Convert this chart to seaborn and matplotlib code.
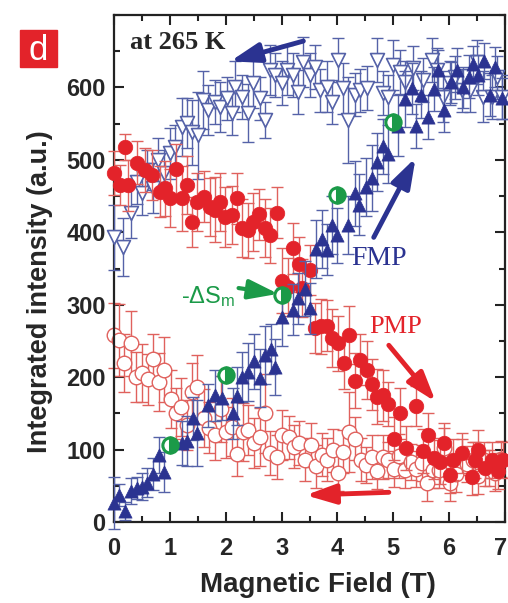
import matplotlib
matplotlib.use("Agg")
import matplotlib.pyplot as plt
import matplotlib.transforms as mtransforms
import numpy as np
import pandas as pd
import seaborn as sns
from matplotlib.patches import Rectangle
from matplotlib.ticker import MultipleLocator

# ---------------- data ----------------
# FMP phase, increasing field (filled up-triangles)
fmp_up_x = [0.00, 0.09, 0.20, 0.30, 0.41, 0.50, 0.59, 0.69, 0.81, 0.90,
            1.22, 1.31, 1.41, 1.49, 1.68, 1.81, 1.93, 2.13, 2.20, 2.30,
            2.40, 2.50, 2.61, 2.70, 2.81, 2.88, 3.00, 3.20, 3.30, 3.42,
            3.50, 3.62, 3.72, 3.81, 3.90, 4.00, 4.19, 4.31, 4.39, 4.51,
            4.62, 4.70, 4.81, 4.91, 5.08, 5.21, 5.33, 5.41, 5.50, 5.62,
            5.72, 5.80, 5.91, 6.03, 6.14, 6.25, 6.35, 6.43, 6.52, 6.62,
            6.73, 6.82, 6.95]
fmp_up_y = [26, 37, 15, 43, 47, 49, 54, 66, 92, 69,
            109, 112, 143, 123, 161, 175, 171, 150, 174, 200,
            207, 222, 199, 230, 239, 214, 283, 293, 309, 322,
            295, 377, 391, 376, 410, 396, 410, 454, 438, 463,
            475, 497, 519, 508, 547, 584, 599, 547, 590, 559,
            598, 624, 569, 607, 624, 600, 615, 632, 617, 636,
            590, 628, 585]
fmp_up_err = [36, 15, 12, 18, 15, 18, 20, 22, 25, 28,
              30, 35, 30, 45, 30, 35, 30, 35, 40, 35,
              40, 38, 40, 40, 35, 38, 40, 35, 35, 38,
              35, 40, 40, 35, 40, 38, 40, 45, 42, 40,
              45, 40, 38, 40, 42, 38, 35, 30, 32, 30,
              30, 28, 30, 28, 30, 28, 30, 25, 28, 25,
              30, 28, 28]

# FMP phase, decreasing field (open down-triangles)
fmp_dn_x = [0.00, 0.16, 0.30, 0.41, 0.50, 0.59, 0.70, 0.79, 0.90, 1.00,
            1.09, 1.22, 1.31, 1.40, 1.50, 1.59, 1.68, 1.81, 1.90, 2.02,
            2.11, 2.17, 2.29, 2.40, 2.49, 2.61, 2.70, 2.79, 2.88, 3.01,
            3.10, 3.20, 3.29, 3.38, 3.51, 3.60, 3.69, 3.81, 3.90, 4.01,
            4.10, 4.19, 4.31, 4.40, 4.53, 4.71, 4.82, 4.90, 4.99, 5.12,
            5.21, 5.35, 5.53, 5.69, 5.78, 5.89, 6.02, 6.10, 6.23, 6.37,
            6.50, 6.61, 6.77, 6.86, 6.95]
fmp_dn_y = [393, 380, 427, 469, 454, 486, 461, 500, 482, 509,
            518, 545, 551, 538, 534, 583, 569, 580, 573, 585,
            565, 601, 587, 565, 606, 585, 555, 624, 617, 606,
            624, 617, 594, 635, 617, 628, 596, 601, 580, 638,
            599, 555, 590, 596, 599, 638, 592, 587, 631, 621,
            607, 627, 610, 638, 624, 587, 606, 614, 596, 596,
            635, 587, 587, 614, 587]
fmp_dn_err = [45, 40, 35, 30, 30, 28, 35, 30, 32, 35,
              30, 40, 35, 45, 60, 40, 35, 30, 35, 30,
              30, 35, 30, 40, 35, 30, 25, 35, 30, 30,
              35, 30, 30, 35, 30, 30, 30, 35, 30, 30,
              35, 60, 30, 30, 30, 30, 30, 30, 35, 30,
              30, 30, 30, 30, 30, 35, 30, 30, 30, 30,
              30, 35, 30, 30, 30]

# PMP phase, increasing field (filled circles)
pmp_up_x = [0.00, 0.11, 0.20, 0.25, 0.41, 0.55, 0.68, 0.82, 0.91, 1.00,
            1.11, 1.22, 1.31, 1.40, 1.49, 1.61, 1.72, 1.81, 1.90, 1.99,
            2.11, 2.20, 2.29, 2.40, 2.49, 2.60, 2.70, 2.79, 2.92, 3.00,
            3.12, 3.20, 3.31, 3.37, 3.51, 3.60, 3.71, 3.81, 3.90, 4.01,
            4.12, 4.21, 4.31, 4.40, 4.53, 4.62, 4.71, 4.82, 4.91, 5.01,
            5.12, 5.23, 5.41, 5.53, 5.62, 5.73, 5.84, 5.91, 6.02, 6.07,
            6.23, 6.41, 6.46, 6.52, 6.65, 6.77, 6.87, 6.96]
pmp_up_y = [482, 465, 518, 465, 496, 486, 479, 456, 461, 447,
            487, 447, 465, 414, 442, 449, 435, 431, 442, 421,
            424, 447, 406, 403, 414, 425, 406, 396, 427, 333,
            324, 378, 356, 323, 348, 268, 270, 271, 254, 247,
            219, 258, 195, 224, 210, 190, 173, 175, 163, 115,
            150, 102, 160, 98, 120, 88, 83, 109, 65, 86,
            95, 62, 86, 99, 75, 86, 70, 86]
pmp_up_err = [30, 28, 18, 35, 30, 30, 35, 35, 38, 40,
              35, 45, 40, 35, 40, 35, 40, 45, 40, 42,
              40, 35, 40, 38, 40, 35, 40, 38, 35, 45,
              40, 35, 38, 40, 35, 35, 38, 35, 40, 38,
              35, 40, 38, 35, 40, 35, 38, 35, 30, 30,
              35, 30, 28, 30, 30, 28, 30, 28, 25, 28,
              28, 25, 25, 28, 25, 25, 25, 25]

# PMP phase, decreasing field (open circles)
pmp_dn_x = [0.00, 0.09, 0.18, 0.30, 0.39, 0.50, 0.61, 0.70, 0.81, 0.90,
            1.02, 1.11, 1.20, 1.31, 1.40, 1.49, 1.61, 1.70, 1.81, 1.92,
            2.00, 2.11, 2.20, 2.31, 2.40, 2.51, 2.61, 2.70, 2.79, 2.92,
            3.00, 3.13, 3.22, 3.31, 3.42, 3.53, 3.62, 3.72, 3.81, 3.92,
            4.01, 4.10, 4.21, 4.31, 4.42, 4.51, 4.62, 4.71, 4.82, 4.91,
            5.01, 5.10, 5.21, 5.32, 5.41, 5.51, 5.60, 5.71, 5.82, 5.91,
            6.02, 6.12, 6.23, 6.32, 6.43, 6.52, 6.62, 6.71, 6.82, 6.93]
pmp_dn_y = [258, 251, 219, 247, 200, 206, 197, 225, 193, 210,
            170, 150, 159, 134, 180, 186, 144, 130, 120, 156,
            124, 131, 94, 124, 127, 109, 117, 150, 95, 90,
            120, 117, 104, 109, 86, 106, 77, 93, 86, 99,
            68, 97, 124, 115, 86, 79, 90, 70, 90, 86,
            73, 91, 72, 83, 73, 81, 54, 72, 72, 102,
            54, 66, 90, 80, 86, 64, 86, 75, 68, 87]
pmp_dn_err = [45, 50, 40, 45, 35, 40, 35, 35, 40, 45,
              40, 35, 40, 35, 40, 45, 40, 35, 35, 45,
              35, 40, 30, 40, 35, 35, 40, 55, 30, 30,
              35, 30, 30, 30, 30, 30, 30, 30, 30, 30,
              25, 30, 55, 30, 30, 25, 30, 25, 30, 25,
              25, 30, 25, 25, 25, 25, 25, 25, 25, 28,
              25, 25, 25, 25, 25, 25, 25, 25, 25, 25]

# magnetic entropy change, scaled onto the intensity axis
ds_x = [1, 2, 3, 4, 5]
ds_y = [106, 203, 313, 451, 552]

x_ticks = [0, 1, 2, 3, 4, 5, 6, 7]
y_ticks = [0, 100, 200, 300, 400, 500, 600]

# ---------------- style ----------------
sns.set_style("ticks")
plt.rcParams["font.family"] = ["Liberation Sans", "DejaVu Sans"]
plt.rcParams["mathtext.fontset"] = "custom"
plt.rcParams["mathtext.rm"] = "Liberation Sans"
plt.rcParams["mathtext.it"] = "Liberation Sans"

NAVY = "#2B3391"
NAVY_LIGHT = "#5562A8"
RED = "#E3232A"
RED_LIGHT = "#E0615D"
GREEN = "#1B9A48"

W, H = 508, 603
fig = plt.figure(figsize=(W / 100, H / 100), dpi=100)
ax = fig.add_axes([114 / W, 1 - 522 / H, (505 - 114) / W, (522 - 15) / H])


def draw_series(x, y, err, bar_color, marker, face, edge, lw, size, z):
    ax.errorbar(x, y, yerr=err, fmt="none", ecolor=bar_color, elinewidth=1.0,
                capsize=4.5, capthick=1.0, zorder=z, clip_on=False)
    df = pd.DataFrame({"B": x, "I": y})
    sns.scatterplot(data=df, x="B", y="I", marker=marker, s=size, color=face,
                    edgecolor=edge, linewidth=lw, ax=ax, zorder=z + 0.5,
                    clip_on=False, legend=False)


draw_series(pmp_dn_x, pmp_dn_y, pmp_dn_err, RED_LIGHT, "o", "white", RED_LIGHT, 1.0, 110, 2)
draw_series(fmp_dn_x, fmp_dn_y, fmp_dn_err, NAVY_LIGHT, "v", "white", NAVY_LIGHT, 1.2, 100, 3)
draw_series(pmp_up_x, pmp_up_y, pmp_up_err, RED_LIGHT, "o", RED, RED, 0.5, 110, 4)
draw_series(fmp_up_x, fmp_up_y, fmp_up_err, NAVY_LIGHT, "^", NAVY, NAVY, 0.5, 90, 5)

ax.plot(ds_x, ds_y, ls="none", marker="o", ms=11, fillstyle="right",
        markerfacecolor=GREEN, markerfacecoloralt="white",
        markeredgecolor=GREEN, markeredgewidth=2.2, zorder=8, clip_on=False)

# ---------------- axes ----------------
ax.set_xlim(0, 7)
ax.set_ylim(0, 700)
ax.set_xticks(x_ticks)
ax.set_yticks(y_ticks)
ax.xaxis.set_minor_locator(MultipleLocator(0.5))
ax.yaxis.set_minor_locator(MultipleLocator(50))
ax.tick_params(which="both", direction="in", top=True, right=True,
               width=1.5, color="#222222")
ax.tick_params(which="major", length=7)
ax.tick_params(which="minor", length=4)
ax.tick_params(axis="x", which="major", pad=11)
ax.tick_params(axis="y", which="major", pad=6)
for lab in ax.get_xticklabels() + ax.get_yticklabels():
    lab.set_fontsize(17)
    lab.set_fontweight("bold")
# keep the last field label inside the canvas
last = ax.get_xticklabels()[-1]
last.set_transform(last.get_transform() +
                   mtransforms.ScaledTranslation(-4 / 100, 0, fig.dpi_scale_trans))
for sp in ax.spines.values():
    sp.set_linewidth(1.6)
    sp.set_color("#222222")

ax.set_xlabel("Magnetic Field (T)", fontsize=20, fontweight="bold", va="center")
ax.set_ylabel("Integrated intensity (a.u.)", fontsize=19.5, fontweight="bold")
ax.xaxis.set_label_coords((318 - 114) / 391, (522 - 585) / 507)
ax.yaxis.set_label_coords((53 - 114) / 391, (522 - 292) / 507)

# ---------------- annotations ----------------
def arrow(tail, head, color, lw=3.5):
    ax.annotate("", xy=head, xytext=tail,
                arrowprops=dict(arrowstyle="-|>,head_length=1.0,head_width=0.33",
                                lw=lw, color=color, shrinkA=0, shrinkB=0,
                                mutation_scale=18),
                zorder=9)


arrow((3.39, 664), (2.08, 636), NAVY)
arrow((4.65, 393), (5.40, 503), NAVY)
arrow((4.92, 244), (5.76, 166), RED)
arrow((4.92, 41), (3.43, 37), RED)
arrow((2.23, 323), (2.94, 315), GREEN, lw=3)

ax.text(1.15, 662, "at 265 K", family="Liberation Serif", fontweight="bold",
        fontsize=19, ha="center", va="center", zorder=10)
ax.text(4.74, 364, "FMP", family="Liberation Serif", fontsize=20,
        color=NAVY, ha="center", va="center", zorder=10)
ax.text(5.04, 269, "PMP", family="Liberation Serif", fontsize=19,
        color=RED, ha="center", va="center", zorder=10)
ax.text(1.68, 311, r"-ΔS$_\mathrm{m}$", fontsize=17, color=GREEN,
        ha="center", va="center", zorder=10)

# panel tag
fig.patches.append(Rectangle((20 / W, 1 - 67 / H), 37 / W, 37 / H,
                             transform=fig.transFigure, color="#E3232A", zorder=1))
fig.text(38.5 / W, 1 - 50 / H, "d", color="white", fontsize=25,
         ha="center", va="center")

fig.savefig("out.png", dpi=100)
